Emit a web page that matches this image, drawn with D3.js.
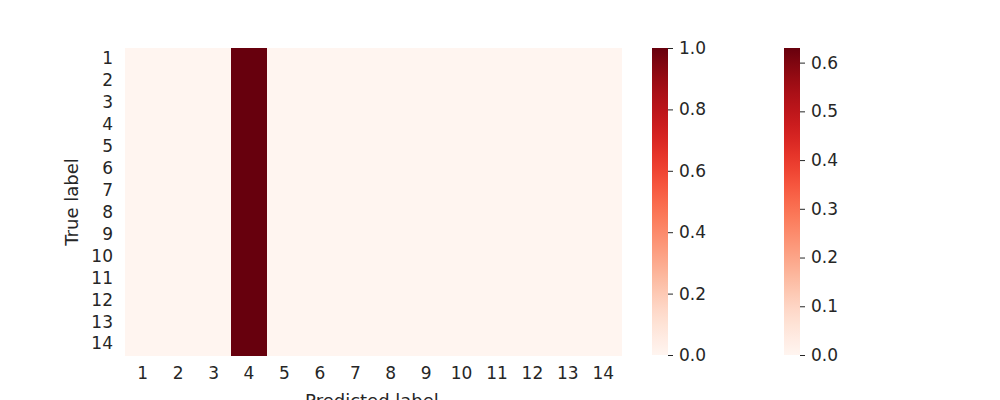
<!DOCTYPE html>
<html><head><meta charset="utf-8">
<script src="https://cdn.jsdelivr.net/npm/d3@7"></script>
<style>body{margin:0;background:#fff}text{font-family:"DejaVu Sans",sans-serif;fill:#262626}</style>
</head><body><svg id="c" width="1000" height="400"></svg>
<script>
const labels = ["1","2","3","4","5","6","7","8","9","10","11","12","13","14"];
// each true label row: predicted label receiving all of the row (all go to label 4)
const predictedCol = [4,4,4,4,4,4,4,4,4,4,4,4,4,4];
const cbTicks1 = [0,0.2,0.4,0.6,0.8,1.0];
const cbTicks2 = [0,0.1,0.2,0.3,0.4,0.5,0.6];
const cbMax2 = 0.63;

const cells = [];
labels.forEach((t, i) => labels.forEach((p, j) => {
  cells.push({t, p, v: (+p === predictedCol[i]) ? 1 : 0});
}));

const svg = d3.select("#c");
const x = d3.scaleBand().domain(labels).range([125, 621]);
const y = d3.scaleBand().domain(labels).range([48, 355]);
const color = d3.scaleSequential(d3.interpolateReds).domain([0, 1]);

svg.append("g").attr("shape-rendering", "crispEdges").selectAll("rect").data(cells).enter().append("rect")
  .attr("x", d => x(d.p)).attr("y", d => y(d.t))
  .attr("width", x.bandwidth() + 1).attr("height", y.bandwidth() + 1)
  .attr("fill", d => color(d.v));

const xa = svg.append("g").attr("transform", "translate(0,355)")
  .call(d3.axisBottom(x).tickSize(0).tickPadding(12));
const ya = svg.append("g").attr("transform", "translate(125,0)")
  .call(d3.axisLeft(y).tickSize(0).tickPadding(12));
[xa, ya].forEach(a => { a.select(".domain").remove(); a.selectAll("text").style("font-size", "17px").attr("fill", "#262626"); });

svg.append("text").attr("x", 372).attr("y", 407).attr("text-anchor", "middle").style("font-size", "18px").text("Predicted label");
svg.append("text").attr("transform", "translate(78,202) rotate(-90)").attr("text-anchor", "middle").style("font-size", "18px").text("True label");

function colorbar(x0, max, ticks, id) {
  const s = d3.scaleLinear().domain([0, max]).range([355, 48]);
  const c = d3.scaleSequential(d3.interpolateReds).domain([0, max]);
  const g = svg.append("defs").append("linearGradient").attr("id", id)
    .attr("x1", 0).attr("y1", 1).attr("x2", 0).attr("y2", 0);
  d3.range(0, 1.001, 0.05).forEach(t => g.append("stop").attr("offset", t).attr("stop-color", c(t * max)));
  svg.append("rect").attr("x", x0).attr("y", 48).attr("width", 16).attr("height", 307).attr("fill", `url(#${id})`);
  const a = svg.append("g").attr("transform", `translate(${x0 + 16},0)`)
    .call(d3.axisRight(s).tickValues(ticks).tickFormat(d3.format(".1f")).tickSize(5).tickPadding(6));
  a.select(".domain").remove();
  a.selectAll("line").attr("stroke", "#262626");
  a.selectAll("text").style("font-size", "17px").attr("fill", "#262626");
}
colorbar(652, 1, cbTicks1, "g1");
colorbar(784, cbMax2, cbTicks2, "g2");
</script></body></html>
